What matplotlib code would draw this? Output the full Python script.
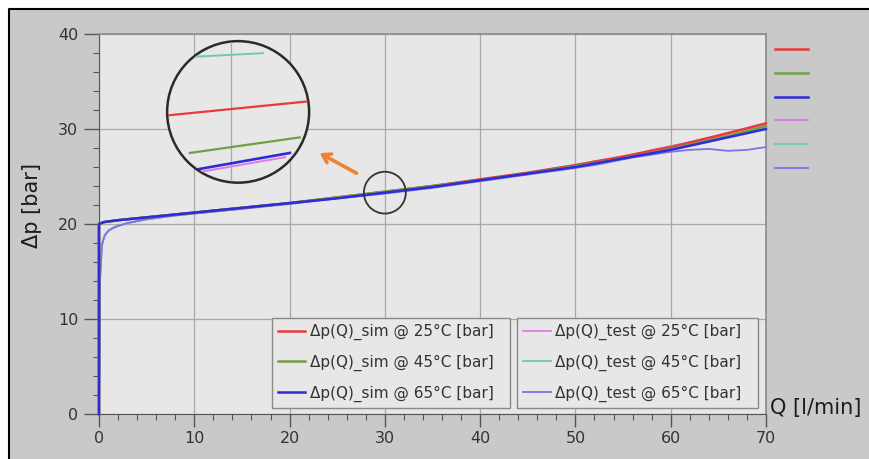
import numpy as np
import matplotlib.pyplot as plt
from matplotlib.lines import Line2D
from matplotlib.patches import Circle, Ellipse, Rectangle
from matplotlib.ticker import MultipleLocator

# Flow Q [l/min] and pressure drop [bar] of the valve, simulation vs. test bench
q_sim = [0, 0, 0.5, 2, 5, 10, 15, 20, 25, 30, 35, 40, 45, 50, 55, 60, 65, 70]
dp_sim_25 = [0, 20.0, 20.2, 20.4, 20.7, 21.2, 21.7, 22.2, 22.8, 23.4, 24.0, 24.7, 25.4, 26.2, 27.1, 28.1, 29.3, 30.6]
dp_sim_45 = [0, 20.0, 20.2, 20.4, 20.7, 21.2, 21.7, 22.2, 22.8, 23.4, 24.0, 24.6, 25.3, 26.1, 26.9, 27.9, 29.0, 30.3]
dp_sim_65 = [0, 20.0, 20.2, 20.4, 20.7, 21.2, 21.7, 22.2, 22.7, 23.3, 23.9, 24.6, 25.3, 26.0, 26.9, 27.8, 28.9, 30.0]

q_test = [0, 0.1, 0.3, 0.6, 1.0, 1.5, 2, 3, 5, 8, 10, 15, 20, 25, 30, 35, 40, 45, 50,
          52, 54, 56, 58, 60, 62, 64, 66, 68, 70]
dp_test_25 = [0, 14.0, 17.8, 18.8, 19.3, 19.6, 19.8, 20.1, 20.5, 20.9, 21.1, 21.6, 22.2, 22.8, 23.4,
              24.0, 24.7, 25.4, 26.2, 26.6, 26.9, 27.3, 27.8, 28.2, 28.6, 29.1, 29.6, 30.0, 30.5]
dp_test_45 = [0, 14.0, 17.8, 18.8, 19.3, 19.6, 19.8, 20.1, 20.5, 20.9, 21.1, 21.6, 22.2, 22.8, 23.3,
              23.9, 24.6, 25.3, 26.1, 26.4, 26.8, 27.2, 27.6, 28.0, 28.4, 28.9, 29.3, 29.8, 30.2]
dp_test_65 = [0, 14.0, 17.8, 18.8, 19.3, 19.6, 19.8, 20.1, 20.5, 20.9, 21.1, 21.6, 22.1, 22.7, 23.2,
              23.8, 24.5, 25.2, 25.9, 26.2, 26.6, 27.0, 27.3, 27.6, 27.8, 27.9, 27.7, 27.8, 28.1]

# magnified view around Q = 30 (own coordinates of the lens)
lens_x = [-1.2, 1.2]
lens_sim_25 = [-0.07, 0.17]
lens_sim_45_x = [-0.68, 0.87]
lens_sim_45 = [-0.58, -0.36]
lens_sim_65_x = [-0.62, 0.73]
lens_sim_65 = [-0.82, -0.58]
lens_test_25_x = [-0.6, 0.66]
lens_test_25 = [-0.86, -0.64]
lens_test_45_x = [-0.6, 0.35]
lens_test_45 = [0.78, 0.83]

labels_sim = ['Δp(Q)_sim @ 25°C [bar]', 'Δp(Q)_sim @ 45°C [bar]', 'Δp(Q)_sim @ 65°C [bar]']
labels_test = ['Δp(Q)_test @ 25°C [bar]', 'Δp(Q)_test @ 45°C [bar]', 'Δp(Q)_test @ 65°C [bar]']

c_sim = ['#e83a3a', '#72a040', '#2c2cd8']
c_test = ['#e27ae8', '#70caa6', '#7a74e6']

bg_out = '#c9c9c9'
bg_plot = '#e7e7e7'
txt = '#333333'

fig = plt.figure(figsize=(8.7, 4.59), dpi=100)
fig.patch.set_facecolor('white')
x0, y1 = 9 / 870, 1 - 9 / 459
fig.patches.append(Rectangle((x0, 0), 1 - x0, y1, transform=fig.transFigure,
                             facecolor=bg_out, edgecolor='none', zorder=-10))
fig.lines.append(Line2D([x0, x0, 1], [0, y1, y1], transform=fig.transFigure, color='black', lw=1.5))

ax = fig.add_axes([99 / 870, 45 / 459, 667 / 870, 380 / 459])
ax.set_facecolor(bg_plot)

lt = []
for y, c in zip([dp_test_25, dp_test_45, dp_test_65], c_test):
    lt += ax.plot(q_test, y, color=c, lw=1.3, clip_on=False, zorder=3)
ls = []
for y, c in zip([dp_sim_25, dp_sim_45, dp_sim_65], c_sim):
    ls += ax.plot(q_sim, y, color=c, lw=1.8, clip_on=False, zorder=4)

ax.set_xlim(0, 70)
ax.set_ylim(0, 40)
ax.xaxis.set_major_locator(MultipleLocator(10))
ax.xaxis.set_minor_locator(MultipleLocator(2))
ax.yaxis.set_major_locator(MultipleLocator(10))
ax.yaxis.set_minor_locator(MultipleLocator(2))
ax.grid(True, which='major', color='#a9a9a9', lw=0.9)
ax.set_axisbelow(True)
ax.tick_params(which='major', axis='y', length=11, width=1, color='#555555', pad=4,
               labelsize=11.5, labelcolor=txt)
ax.tick_params(which='major', axis='x', length=9, width=1, color='#555555', pad=3,
               labelsize=11.5, labelcolor=txt)
ax.tick_params(which='minor', length=4, width=0.8, color='#555555')
for s in ['left', 'bottom']:
    ax.spines[s].set_color('#555555')
for s in ['top', 'right']:
    ax.spines[s].set_color('#8c8c8c')
    ax.spines[s].set_linewidth(1.2)

fig.text(0.037, 0.553, 'Δp [bar]', rotation=90, ha='center', va='center', fontsize=15, color='#1c1c1c')
ax.text(1.006, 0.016, 'Q [l/min]', transform=ax.transAxes, ha='left', va='center',
        fontsize=15, color='#1c1c1c')

leg_kw = dict(loc='upper left', borderaxespad=0, fontsize=11, labelspacing=0.95,
              handlelength=1.8, handletextpad=0.3, borderpad=0.4, fancybox=False,
              framealpha=1, facecolor=bg_plot, edgecolor='#8a8a8a', labelcolor=txt)
# labels padded on the right so the boxes keep some room after the text
leg1 = ax.legend(ls, [s + '  ' for s in labels_sim], bbox_to_anchor=(0.259, 0.253), **leg_kw)
ax.add_artist(leg1)
leg2 = ax.legend(lt, [s + '  ' for s in labels_test], bbox_to_anchor=(0.627, 0.253), **leg_kw)
ax.add_artist(leg2)

# unlabeled colour keys to the right of the plot
ax.legend(ls + lt, [' '] * 6, loc='upper left', bbox_to_anchor=(1.013, 0.976), borderaxespad=0,
          frameon=False, fontsize=10, labelspacing=0.7, handlelength=2.4, handletextpad=0,
          borderpad=0)

# small circle on the curves and arrow to the lens
ax.add_patch(Ellipse((30, 23.3), 4.4, 4.4, facecolor='none', edgecolor='#333333', lw=1.3, zorder=6))
ax.annotate('', xy=(22.9, 27.6), xytext=(27.3, 25.2),
            arrowprops=dict(arrowstyle='->,head_width=0.35,head_length=0.55', color='#f08232', lw=2.6))

# lens
ins = ax.inset_axes([7.15, 24.35, 14.9, 14.9], transform=ax.transData)
ins.set_xlim(-1, 1)
ins.set_ylim(-1, 1)
ins.axis('off')
lens = Circle((0, 0), 1, facecolor=bg_plot, edgecolor='#2a2a2a', lw=1.8, zorder=1, clip_on=False)
ins.add_patch(lens)
clip = Circle((0, 0), 0.99, transform=ins.transData)
g = ins.axvline(-0.1, color='#a9a9a9', lw=0.9, zorder=2)
g.set_clip_path(clip)
for xs, y, c, w in [(lens_x, lens_sim_25, c_sim[0], 1.6),
                    (lens_sim_45_x, lens_sim_45, c_sim[1], 1.6),
                    (lens_test_25_x, lens_test_25, c_test[0], 1.4),
                    (lens_sim_65_x, lens_sim_65, c_sim[2], 1.9),
                    (lens_test_45_x, lens_test_45, c_test[1], 1.4)]:
    ln, = ins.plot(xs, y, color=c, lw=w, zorder=3)
    ln.set_clip_path(clip)

fig.savefig('out.png', dpi=100, facecolor=fig.get_facecolor())
